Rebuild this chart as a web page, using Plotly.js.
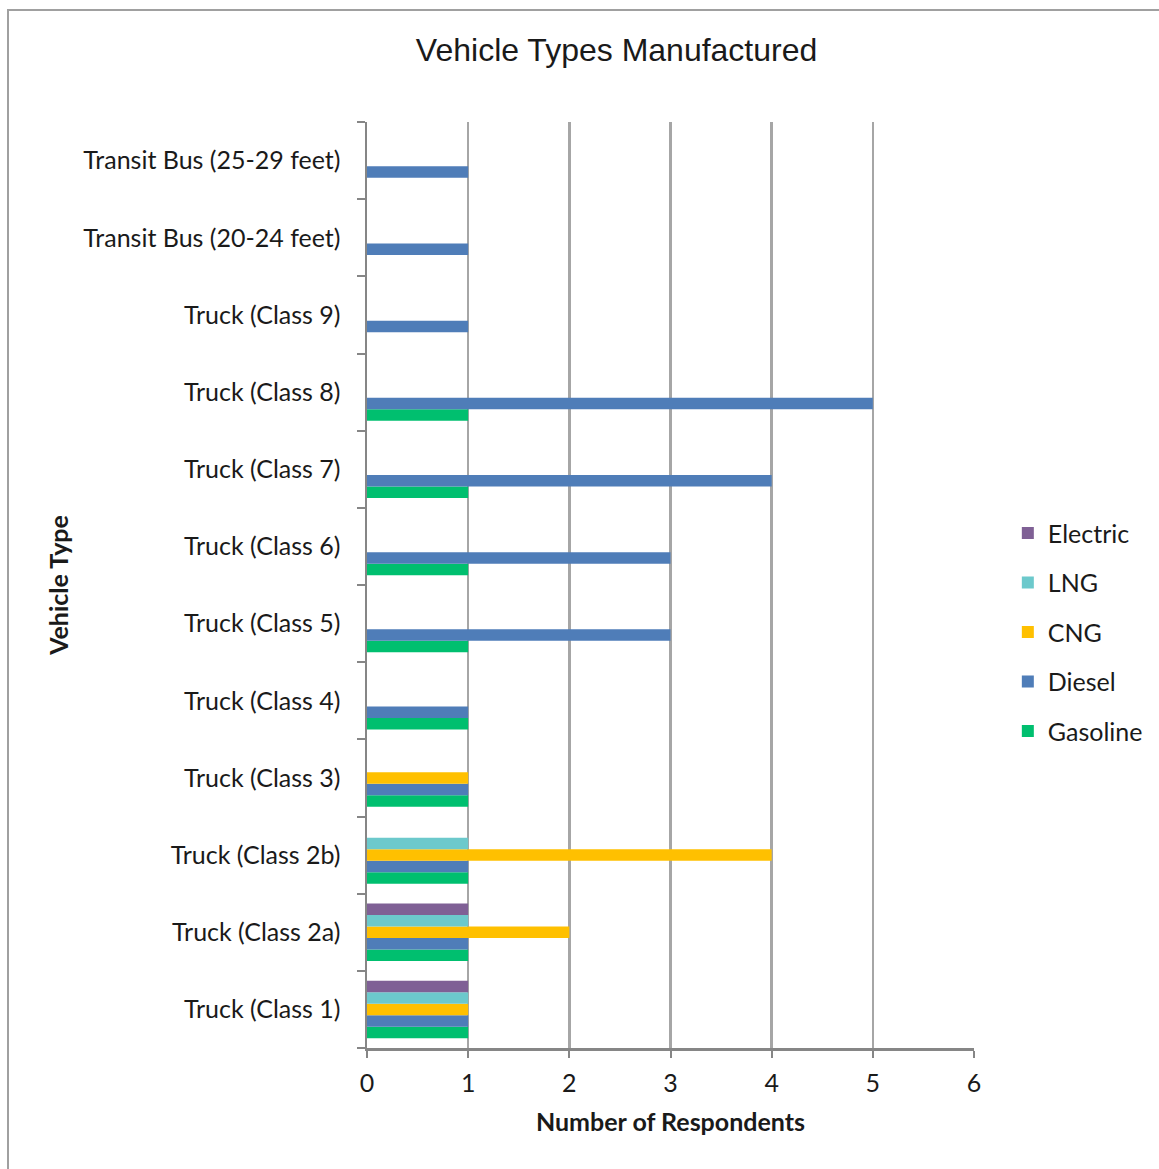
<!DOCTYPE html>
<html>
<head>
<meta charset="utf-8">
<script src="https://cdn.plot.ly/plotly-3.0.1.min.js"></script>
<style>
  html, body { margin: 0; padding: 0; background: #fff; overflow: hidden; }
  #wrap { position: relative; width: 1159px; height: 1169px; }
  #chart { position: absolute; left: 0; top: 0; width: 1159px; height: 1169px; }
  #frame { position: absolute; left: 7px; top: 9px; width: 1300px; height: 1300px;
           border: 2px solid #a0a0a0; pointer-events: none; }
</style>
</head>
<body>
<div id="wrap">
  <div id="chart"></div>
  <div id="frame"></div>
</div>
<script>
// Categories listed bottom to top
const categories = [
  "Truck (Class 1)", "Truck (Class 2a)", "Truck (Class 2b)", "Truck (Class 3)",
  "Truck (Class 4)", "Truck (Class 5)", "Truck (Class 6)", "Truck (Class 7)",
  "Truck (Class 8)", "Truck (Class 9)", "Transit Bus (20-24 feet)", "Transit Bus (25-29 feet)"
];
const gasoline = [1, 1, 1, 1, 1, 1, 1, 1, 1, null, null, null];
const diesel   = [1, 1, 1, 1, 1, 3, 3, 4, 5, 1, 1, 1];
const cng      = [1, 2, 4, 1, null, null, null, null, null, null, null, null];
const lng      = [1, 1, 1, null, null, null, null, null, null, null, null, null];
const electric = [1, 1, null, null, null, null, null, null, null, null, null, null];
const xTicks = [0, 1, 2, 3, 4, 5, 6];

const seriesNames = ["Gasoline", "Diesel", "CNG", "LNG", "Electric"];
const seriesValues = [gasoline, diesel, cng, lng, electric];
const seriesColors = ["#00BF6F", "#4F7DB8", "#FFC000", "#6CC9CC", "#7F6095"];

const data = seriesNames.map((name, i) => ({
  type: "bar",
  orientation: "h",
  name: name,
  legendgroup: name,
  legendrank: 1000 - i,
  y: categories,
  x: seriesValues[i],
  marker: { color: seriesColors[i], line: { width: 0 } },
  hoverinfo: "x+y+name"
}));

const txtFamily = "Lato, 'Open Sans', sans-serif";
const tickFont = { family: txtFamily, size: 25, color: "#1a1a1a" };

const layout = {
  width: 1159,
  height: 1169,
  margin: { l: 367, r: 184, t: 122, b: 121, pad: 0 },
  paper_bgcolor: "#ffffff",
  plot_bgcolor: "#ffffff",
  barmode: "group",
  bargap: 0.255,
  bargroupgap: 0,
  title: {
    text: "Vehicle Types Manufactured",
    font: { family: "'Liberation Sans', Arial, sans-serif", size: 32, color: "#1a1a1a" },
    x: 0.532, xanchor: "center",
    y: 1 - 50 / 1169, yanchor: "middle", yref: "container"
  },
  xaxis: {
    range: [0, 6],
    tickvals: xTicks,
    ticktext: xTicks.map(String),
    showgrid: true,
    gridcolor: "#a6a6a6",
    gridwidth: 2.5,
    zeroline: false,
    showline: true,
    linecolor: "#868686",
    linewidth: 2.5,
    ticks: "outside",
    ticklen: 7,
    tickwidth: 2,
    tickcolor: "#868686",
    tickfont: tickFont,
    ticklabelstandoff: 4,
    title: {
      text: "<b>Number of Respondents</b>",
      font: { family: txtFamily, size: 25, color: "#1a1a1a" },
      standoff: 18
    },
    fixedrange: true
  },
  yaxis: {
    type: "category",
    categoryorder: "array",
    categoryarray: categories,
    showgrid: false,
    zeroline: false,
    showline: true,
    linecolor: "#868686",
    linewidth: 2.5,
    ticks: "outside",
    tickson: "boundaries",
    ticklen: 8,
    tickwidth: 2,
    tickcolor: "#868686",
    tickfont: tickFont,
    ticklabelstandoff: 19,
    title: {
      text: "<b>Vehicle Type</b>",
      font: { family: txtFamily, size: 25, color: "#1a1a1a" },
      standoff: 8
    },
    fixedrange: true
  },
  legend: {
    x: 1.054, xanchor: "left",
    y: 0.449, yanchor: "middle",
    traceorder: "grouped",
    tracegroupgap: 14,
    font: { family: txtFamily, size: 25, color: "#1a1a1a" },
    bgcolor: "rgba(0,0,0,0)",
    itemwidth: 30
  },
  showlegend: true
};

Plotly.newPlot("chart", data, layout, { displayModeBar: false, staticPlot: true });
</script>
</body>
</html>
